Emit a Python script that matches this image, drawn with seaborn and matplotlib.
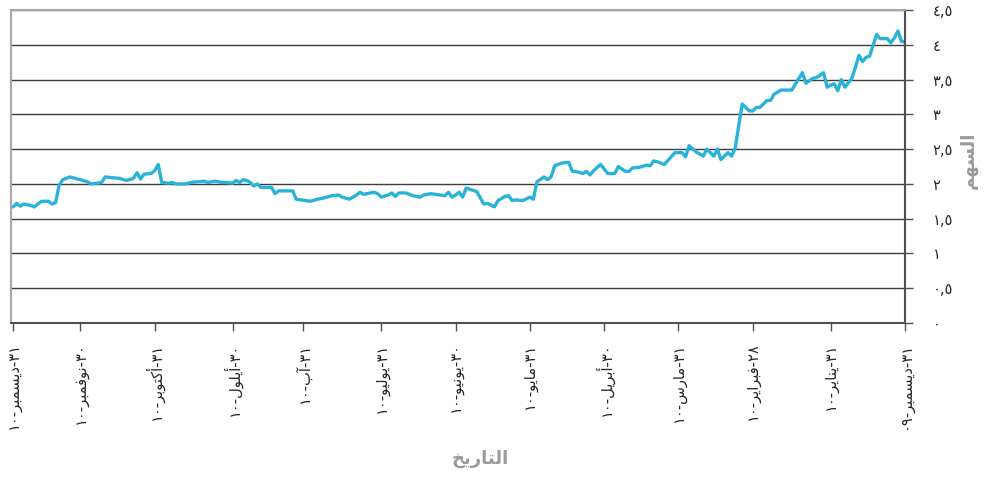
import unicodedata
import matplotlib
matplotlib.use("Agg")
import matplotlib.pyplot as plt
import seaborn as sns
import pandas as pd

# Share price. The x axis is a trading-day axis
# (evenly spaced points), counted from the close of 31 Dec 2009.
trading_day = [
    0, 1, 2, 3, 4, 5, 7, 8, 10, 11, 12, 13, 14, 15, 17, 18, 19, 20, 21, 22,
    23, 25, 26, 28, 29, 32, 35, 37, 38, 39, 41, 42, 43, 44, 46, 48, 49, 50, 52, 53,
    54, 55, 56, 57, 59, 61, 62, 63, 65, 68, 70, 71, 72, 73, 75, 77, 78, 79, 81, 82,
    84, 86, 88, 89, 90, 91, 93, 94, 95, 97, 99, 100, 101, 102, 104, 105, 106, 108, 110, 111,
    112, 113, 115, 116, 118, 119, 121, 124, 125, 126, 127, 128, 129, 130, 134, 136, 137, 139, 141, 143,
    144, 145, 146, 148, 149, 150, 153, 154, 155, 157, 159, 160, 162, 164, 166, 168, 172, 173, 177, 178,
    179, 182, 183, 184, 185, 186, 187, 188, 189, 190, 192, 193, 195, 197, 198, 200, 202, 203, 206, 207,
    208, 210, 211, 212, 213, 215, 216, 217, 218, 220, 222, 226, 227, 230, 231, 233, 236, 238, 239, 240,
    241, 242, 244, 246, 247, 249, 250, 251, 252,
]
share_price = [
    4.04, 4.05, 4.20, 4.10, 4.03, 4.09, 4.09, 4.15, 3.84, 3.82, 3.76, 3.85, 3.68, 3.52, 3.39, 3.50, 3.34, 3.44, 3.42, 3.39,
    3.60, 3.53, 3.52, 3.45, 3.60, 3.35, 3.35, 3.29, 3.20, 3.20, 3.10, 3.10, 3.05, 3.05, 3.15, 2.51, 2.40, 2.45, 2.35, 2.50,
    2.40, 2.45, 2.50, 2.40, 2.46, 2.55, 2.39, 2.45, 2.45, 2.28, 2.32, 2.33, 2.26, 2.27, 2.24, 2.23, 2.18, 2.18, 2.25, 2.15,
    2.15, 2.28, 2.19, 2.13, 2.18, 2.15, 2.18, 2.18, 2.31, 2.30, 2.26, 2.10, 2.06, 2.10, 2.03, 1.78, 1.81, 1.76, 1.77, 1.76,
    1.83, 1.82, 1.76, 1.67, 1.72, 1.71, 1.89, 1.94, 1.81, 1.88, 1.84, 1.81, 1.88, 1.83, 1.86, 1.84, 1.81, 1.83, 1.87, 1.87,
    1.82, 1.87, 1.84, 1.81, 1.86, 1.88, 1.85, 1.88, 1.84, 1.78, 1.81, 1.84, 1.83, 1.80, 1.78, 1.75, 1.78, 1.90, 1.90, 1.86,
    1.95, 1.95, 2.00, 1.97, 2.02, 2.05, 2.06, 2.02, 2.05, 2.01, 2.02, 2.02, 2.04, 2.02, 2.04, 2.03, 2.02, 2.00, 2.00, 2.02,
    2.01, 2.02, 2.28, 2.19, 2.15, 2.14, 2.07, 2.16, 2.08, 2.05, 2.08, 2.10, 2.02, 2.00, 2.03, 2.06, 2.10, 2.06, 1.98, 1.73,
    1.71, 1.75, 1.75, 1.67, 1.69, 1.71, 1.68, 1.72, 1.67,
]

# month-end trading days and their labels
tick_days = [0, 21, 43, 64, 85, 106, 127, 148, 170, 190, 212, 233, 252]
tick_labels = ["٣١-ديسمبر-٠٩", "٣١-يناير-١٠", "٢٨-فبراير-١٠", "٣١-مارس-١٠", "٣٠-أبريل-١٠", "٣١-مايو-١٠",
               "٣٠-يونيو-١٠", "٣١-يوليو-١٠", "٣١-آب-١٠", "٣٠-أيلول-١٠", "٣١-أكتوبر-١٠", "٣٠-نوفمبر-١٠",
               "٣١-ديسمبر-١٠"]
y_ticks = [0, 0.5, 1, 1.5, 2, 2.5, 3, 3.5, 4, 4.5]
y_tick_labels = ["٠", "٠,٥", "١", "١,٥", "٢", "٢,٥", "٣", "٣,٥", "٤", "٤,٥"]
x_title = "التاريخ"
y_title = "السهم"


# matplotlib has no Arabic shaping / bidi, so do a small one here
def _form(ch, suffix):
    try:
        return unicodedata.lookup(unicodedata.name(ch) + " " + suffix)
    except (KeyError, ValueError):
        return None


def arabic(text):
    is_letter = [_form(c, "ISOLATED FORM") is not None for c in text]
    joins_next = [_form(c, "INITIAL FORM") is not None for c in text]
    shaped = []
    for i, ch in enumerate(text):
        if not is_letter[i]:
            shaped.append(ch)
            continue
        left = i > 0 and is_letter[i - 1] and joins_next[i - 1]
        right = joins_next[i] and i + 1 < len(text) and is_letter[i + 1]
        if left and right:
            suffix = "MEDIAL FORM"
        elif left:
            suffix = "FINAL FORM"
        elif right:
            suffix = "INITIAL FORM"
        else:
            suffix = "ISOLATED FORM"
        shaped.append(_form(ch, suffix) or ch)
    # right-to-left order, digit runs stay left-to-right
    runs = []
    for ch in shaped:
        d = ch.isdigit()
        if runs and runs[-1][0] == d:
            runs[-1][1].append(ch)
        else:
            runs.append([d, [ch]])
    return "".join("".join(chars if d else reversed(chars)) for d, chars in reversed(runs))


sns.set_theme(style="white")
plt.rcParams["font.family"] = ["DejaVu Sans"]

df = pd.DataFrame({"trading_day": trading_day, "price": share_price})

fig = plt.figure(figsize=(10, 4.82), dpi=100)
ax = fig.add_axes([0.011, 0.330, 0.894, 0.649])

sns.lineplot(data=df, x="trading_day", y="price", ax=ax, color="#2ab3d9",
             linewidth=2.4, estimator=None)

# reversed axis: oldest date on the right
ax.set_xlim(252.6, 0)
ax.set_ylim(0, 4.5)

ax.set_xticks(tick_days)
ax.set_xticklabels([arabic(t) for t in tick_labels], rotation=90, fontsize=10.5)
ax.set_yticks(y_ticks)
ax.set_yticklabels(y_tick_labels, fontsize=10.5)
ax.yaxis.tick_right()
ax.yaxis.set_label_position("right")

ax.grid(axis="y", color="#3c3c3c", linewidth=1)
ax.grid(axis="x", visible=False)
ax.set_axisbelow(True)

for side in ["top", "left"]:
    ax.spines[side].set_color("#a8a8a8")
    ax.spines[side].set_linewidth(1.5)
for side in ["bottom", "right"]:
    ax.spines[side].set_color("#505050")
    ax.spines[side].set_linewidth(1.5)

ax.tick_params(axis="x", bottom=True, direction="out", length=6, width=1, color="#505050", pad=8)
ax.tick_params(axis="y", right=True, left=False, direction="out", length=6, width=1,
               color="#505050", pad=14)

ax.set_xlabel(arabic(x_title), fontsize=13, fontweight="bold", color="#9a9a9a")
ax.xaxis.set_label_coords(0.5246, -0.405)
ax.set_ylabel(arabic(y_title), fontsize=13, fontweight="bold", color="#9a9a9a", rotation=90)
ax.yaxis.set_label_coords(1.061, 0.52)

fig.savefig("out.png", dpi=100)
